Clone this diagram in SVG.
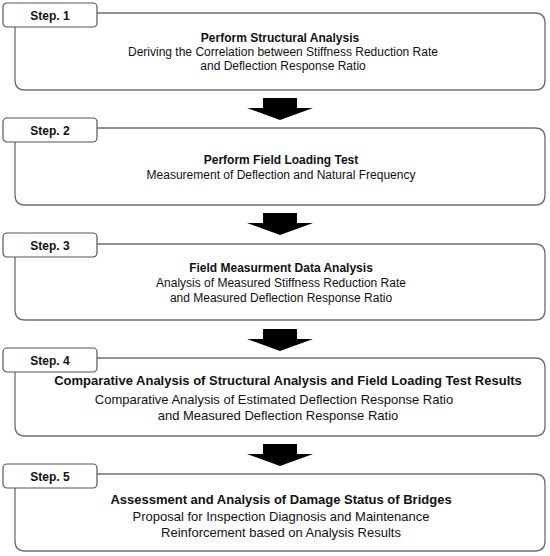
<svg xmlns="http://www.w3.org/2000/svg" width="550" height="556" viewBox="0 0 550 556">
<style>
.tab{fill:#fff;stroke:#555;stroke-width:1.2}
.box{fill:none;stroke:#6e6e6e;stroke-width:1.3}
.arr{fill:#000}
text{font-family:"Liberation Sans",Arial,sans-serif;fill:#111;text-anchor:middle}
.st{font-size:12px;font-weight:bold}
.tt{font-size:12px;font-weight:bold}
.tx{font-size:12px}
.tt13{font-size:13px;font-weight:bold}
.tx13{font-size:13px}
</style>
<rect width="550" height="556" fill="#fff"/>
<g id="connectors">
<polygon class="arr" points="263,98 297,98 297,108 313,108 280,120 247,108 263,108"/>
<polygon class="arr" points="263,213 297,213 297,223 313,223 280,235 247,223 263,223"/>
<polygon class="arr" points="263,329 297,329 297,339 313,339 280,351 247,339 263,339"/>
<polygon class="arr" points="263,444 297,444 297,454 313,454 280,466 247,454 263,454"/>
</g>
<g id="step1">
<path class="box" d="M97,13 H535 Q545,13 545,23 V80 Q545,90 535,90 H25 Q15,90 15,80 V27"/>
<rect class="tab" x="3" y="3" width="94" height="24" rx="4"/>
<text class="st" x="50" y="19.5">Step. 1</text>
<text class="tt" x="280" y="42">Perform Structural Analysis</text>
<text class="tx" x="283" y="56">Deriving the Correlation between Stiffness Reduction Rate</text>
<text class="tx" x="283" y="69.5">and Deflection Response Ratio</text>
</g>
<g id="step2">
<path class="box" d="M97,128 H535 Q545,128 545,138 V195 Q545,205 535,205 H25 Q15,205 15,195 V142"/>
<rect class="tab" x="3" y="118" width="94" height="24" rx="4"/>
<text class="st" x="50" y="134.5">Step. 2</text>
<text class="tt" x="281" y="164">Perform Field Loading Test</text>
<text class="tx" x="281" y="178.5">Measurement of Deflection and Natural Frequency</text>
</g>
<g id="step3">
<path class="box" d="M97,244 H535 Q545,244 545,254 V310 Q545,320 535,320 H25 Q15,320 15,310 V257"/>
<rect class="tab" x="3" y="233" width="94" height="24" rx="4"/>
<text class="st" x="50" y="249.5">Step. 3</text>
<text class="tt" x="281" y="272">Field Measurment Data Analysis</text>
<text class="tx" x="281" y="287">Analysis of Measured Stiffness Reduction Rate</text>
<text class="tx" x="281" y="302">and Measured Deflection Response Ratio</text>
</g>
<g id="step4">
<path class="box" d="M97,358 H535 Q545,358 545,368 V426 Q545,436 535,436 H25 Q15,436 15,426 V372"/>
<rect class="tab" x="3" y="348" width="94" height="24" rx="4"/>
<text class="st" x="50" y="364.5">Step. 4</text>
<text class="tt13" x="288" y="385">Comparative Analysis of Structural Analysis and Field Loading Test Results</text>
<text class="tx13" x="274" y="404">Comparative Analysis of Estimated Deflection Response Ratio</text>
<text class="tx13" x="278" y="420">and Measured Deflection Response Ratio</text>
</g>
<g id="step5">
<path class="box" d="M97,474 H535 Q545,474 545,484 V541 Q545,551 535,551 H25 Q15,551 15,541 V488"/>
<rect class="tab" x="3" y="464" width="94" height="24" rx="4"/>
<text class="st" x="50" y="480.5">Step. 5</text>
<text class="tt13" x="281" y="504">Assessment and Analysis of Damage Status of Bridges</text>
<text class="tx13" x="281" y="521">Proposal for Inspection Diagnosis and Maintenance</text>
<text class="tx13" x="281" y="537">Reinforcement based on Analysis Results</text>
</g>
</svg>
